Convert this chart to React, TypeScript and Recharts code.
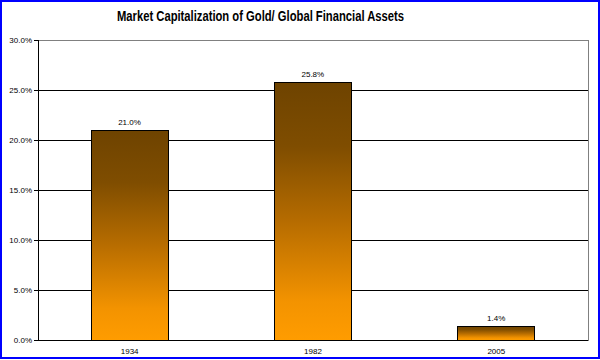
import {
  Bar,
  BarChart,
  CartesianGrid,
  LabelList,
  ReferenceArea,
  XAxis,
  YAxis,
} from "recharts";

const years = ["1934", "1982", "2005"];
const goldShare = [21.0, 25.8, 1.4];
const yTicks = [0, 5, 10, 15, 20, 25, 30];
const slotEdges = [0, 1, 2, 3];

const chartData = years.map((year, i) => ({ year, share: goldShare[i] }));

const FONT = "Arial, 'Liberation Sans', sans-serif";
const pct = (v: number) => v.toFixed(1) + "%";

export default function App() {
  return (
    <div style={{ position: "absolute", left: 0, top: 0, width: 600, height: 360, background: "#fff" }}>
      <style>{".recharts-wrapper line, .recharts-wrapper path, .recharts-wrapper rect { shape-rendering: crispEdges; }"}</style>
      <BarChart
        width={600}
        height={360}
        data={chartData}
        margin={{ top: 40, right: 12, bottom: 0, left: 0 }}
      >
        <defs>
          <linearGradient id="goldFill" x1="0" y1="0" x2="0" y2="1">
            <stop offset="0%" stopColor="#6e4300" />
            <stop offset="25%" stopColor="#7f4d00" />
            <stop offset="55%" stopColor="#b86d00" />
            <stop offset="85%" stopColor="#f39300" />
            <stop offset="100%" stopColor="#ff9c00" />
          </linearGradient>
        </defs>
        <CartesianGrid vertical={false} stroke="#000" strokeOpacity={1} />
        <XAxis
          xAxisId="edges"
          type="number"
          domain={[0, 3]}
          ticks={slotEdges}
          height={0}
          tick={false}
          tickSize={4}
          tickLine={{ stroke: "#000" }}
          axisLine={false}
          allowDataOverflow
        />
        <XAxis
          dataKey="year"
          height={20}
          tickLine={false}
          axisLine={{ stroke: "#000" }}
          tick={{ fontSize: 8, fill: "#000", fontFamily: FONT }}
        />
        <YAxis
          width={38}
          domain={[0, 30]}
          ticks={yTicks}
          tickFormatter={pct}
          tickSize={4}
          tickLine={{ stroke: "#000" }}
          axisLine={{ stroke: "#000" }}
          tick={{ fontSize: 8, fill: "#000", fontFamily: FONT }}
        />
        <ReferenceArea y1={0} y2={30} fill="none" stroke="#808080" strokeWidth={1} ifOverflow="visible" />
        <Bar
          dataKey="share"
          barSize={77}
          fill="url(#goldFill)"
          stroke="#000"
          strokeWidth={1}
          isAnimationActive={false}
        >
          <LabelList
            dataKey="share"
            position="top"
            offset={5}
            formatter={(v: any) => pct(Number(v))}
            style={{ fontSize: 8, fill: "#000", fontFamily: FONT }}
          />
        </Bar>
      </BarChart>
      <svg width={600} height={40} style={{ position: "absolute", left: 0, top: 0 }}>
        <text
          x={260.5}
          y={21}
          textAnchor="middle"
          fontSize={14}
          fontWeight="bold"
          fontFamily={FONT}
          textLength={287}
          lengthAdjust="spacingAndGlyphs"
        >
          Market Capitalization of Gold/ Global Financial Assets
        </text>
      </svg>
      <div
        style={{
          position: "absolute",
          left: 0,
          top: 0,
          width: 600,
          height: 359,
          boxSizing: "border-box",
          border: "2px solid #0000ff",
          pointerEvents: "none",
        }}
      />
    </div>
  );
}
